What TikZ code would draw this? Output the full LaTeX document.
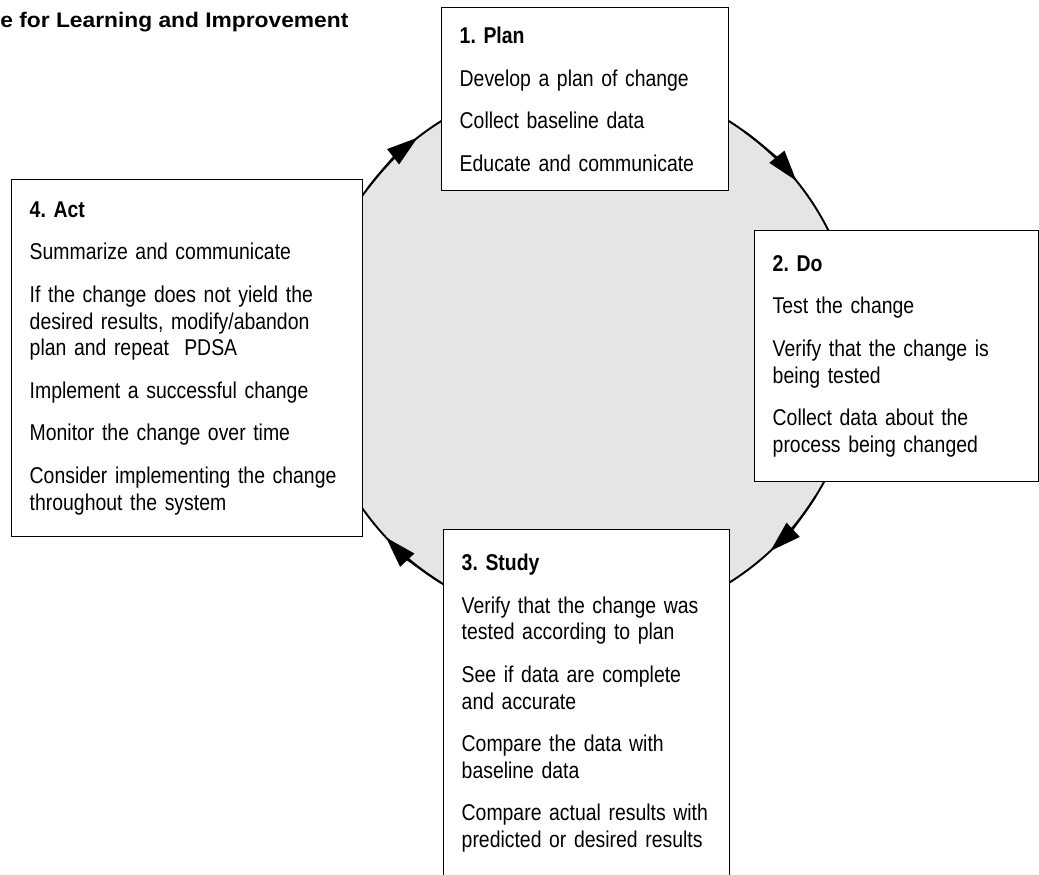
\documentclass[tikz,border=0pt]{standalone}
\usepackage{fontspec}
\setmainfont[FakeStretch=0.85]{Liberation Sans}
\newfontfamily\headfont[FakeStretch=1.08]{Liberation Sans}
\usetikzlibrary{arrows.meta}
\frenchspacing
\hyphenpenalty=10000
\begin{document}
\begin{tikzpicture}[
  box/.style={draw, fill=white, line width=0.8pt, anchor=north west, align=left,
    inner xsep=0.36cm, font=\fontsize{13}{15.2}\selectfont},
  cyc/.style={line width=1.1pt, -{Triangle[length=0.62cm,width=0.38cm]}}]
\useasboundingbox (0,0) rectangle (20.78,-17.5);
\coordinate (c) at (11.7,-7.04);
\node[anchor=base west, inner sep=0pt, font=\headfont\bfseries\fontsize{12}{14}\selectfont] (title) at (0,-0.56) {e for Learning and Improvement};
\fill[gray!20] (c) circle (5.44cm);                  % cycle disc
\draw[line width=1.1pt] (c) circle (5.44cm);
\draw[cyc] (c) ++(54:5.44) arc (54:39:5.44);        % plan to do
\draw[cyc] (c) ++(-32:5.44) arc (-32:-47:5.44);     % do to study
\draw[cyc] (c) ++(238:5.44) arc (238:223:5.44);     % study to act
\draw[cyc] (c) ++(143:5.44) arc (143:128:5.44);     % act to plan
\node[box, text width=5.02cm, minimum height=3.66cm] (plan) at (8.82,-0.14)
  {\textbf{1. Plan}\\[9pt] Develop a plan of change\\[9pt] Collect baseline data\\[9pt] Educate and communicate};
\node[box, text width=4.96cm, minimum height=5.02cm] (do) at (15.08,-4.6)
  {\textbf{2. Do}\\[9pt] Test the change\\[9pt] Verify that the change is\\ being tested\\[9pt] Collect data about the\\ process being changed};
\node[box, text width=5.0cm, minimum height=6.94cm] (study) at (8.86,-10.58)
  {\textbf{3. Study}\\[9pt] Verify that the change was\\ tested according to plan\\[9pt] See if data are complete\\ and accurate\\[9pt] Compare the data with\\ baseline data\\[9pt] Compare actual results with\\ predicted or desired results};
\node[box, text width=6.3cm, minimum height=7.14cm] (act) at (0.22,-3.58)
  {\textbf{4. Act}\\[9pt] Summarize and communicate\\[9pt] If the change does not yield the\\ desired results, modify/abandon\\ plan and repeat~ PDSA\\[9pt] Implement a successful change\\[9pt] Monitor the change over time\\[9pt] Consider implementing the change\\ throughout the system};
\end{tikzpicture}
\end{document}
